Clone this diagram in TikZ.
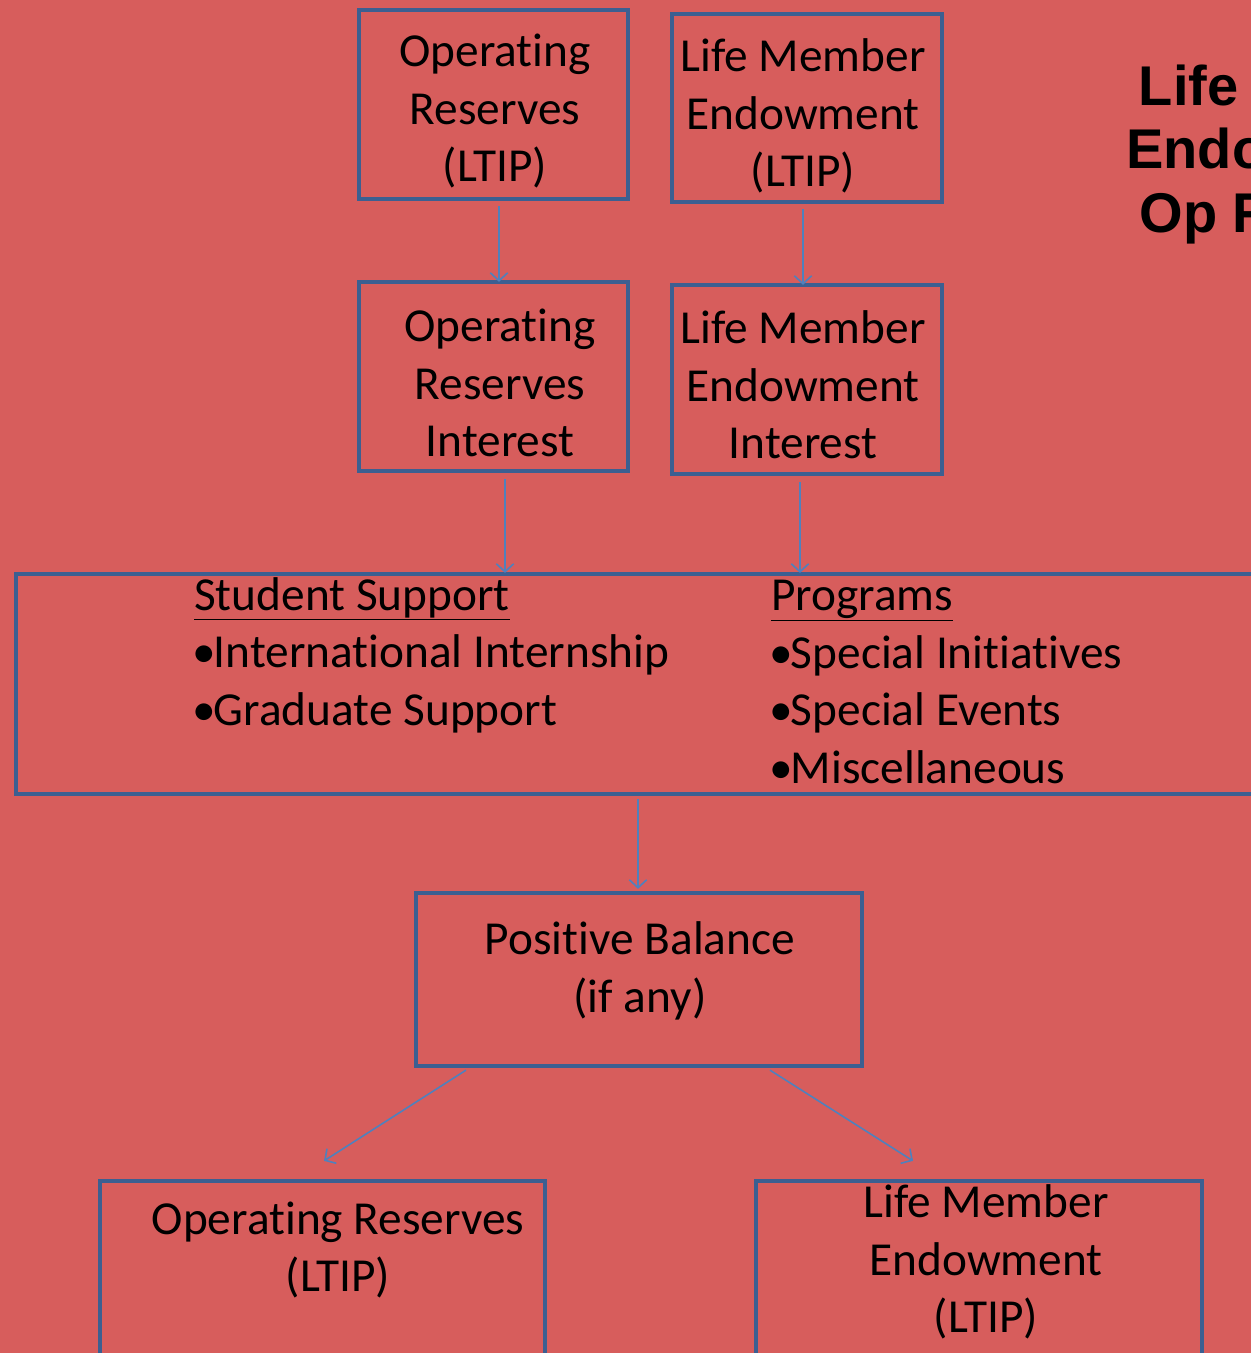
\documentclass[tikz,border=0pt]{standalone}
\usepackage{fontspec}
\setmainfont{Carlito}[Ligatures=NoCommon]
\newfontfamily\titlefont{Liberation Sans}
\usetikzlibrary{arrows.meta,calc,fit}
\definecolor{bgred}{RGB}{215,93,92}
\definecolor{boxblue}{RGB}{60,95,145}
\definecolor{arrowblue}{RGB}{79,129,189}
\newcommand{\blt}{\kern-1.5pt\textbullet\kern-1.5pt}
\begin{document}
\begin{tikzpicture}[x=0.75pt,y=-0.75pt,
  box/.style={draw=boxblue,line width=3.2pt,rectangle,inner sep=0pt},
  txt/.style={font=\fontsize{35.5}{43.1}\selectfont,align=center,inner sep=0pt},
  col/.style={font=\fontsize{35.5}{43.1}\selectfont,align=left,inner sep=0pt,anchor=base west},
  arr/.style={draw=arrowblue,line width=1.2pt,-{Straight Barb[length=6pt,width=13pt,line width=1.2pt]}}]
\useasboundingbox (0,0) rectangle (1251,1353);
\clip (0,0) rectangle (1251,1353);
\fill[bgred] (0,0) rectangle (1251,1353);
% boxes
\node[box,fit={(359,10)(628,199)}] (ort) {};
\node[box,fit={(672,14)(942,202)}] (lmt) {};
\node[box,fit={(359,282)(628,471)}] (ori) {};
\node[box,fit={(672,285)(942,474)}] (lmi) {};
\node[box,fit={(16,574)(1300,794)}] (big) {};
\node[box,fit={(416,893)(862,1066)}] (pb) {};
\node[box,fit={(100,1181)(545,1420)}] (orb) {};
\node[box,fit={(756,1181)(1202,1420)}] (lmb) {};
% texts
\node[txt] (t1) at (495,111) {Operating\\Reserves\\(LTIP)};
\node[txt] (t2) at (803,116) {Life Member\\Endowment\\(LTIP)};
\node[txt] (t3) at (500,383) {Operating\\Reserves\\Interest};
\node[txt] (t4) at (803,385) {Life Member\\Endowment\\Interest};
\node[col] (c1) at (194,725) {\underline{Student Support}\\\blt International Internship\\\blt Graduate Support};
\node[col] (c2) at (771,783) {\underline{Programs}\\\blt Special Initiatives\\\blt Special Events\\\blt Miscellaneous};
\node[txt] (t5) at (640,971) {Positive Balance\\(if any)};
\node[txt] (t6) at (338,1250) {Operating Reserves\\(LTIP)};
\node[txt] (t7) at (986,1262) {Life Member\\Endowment\\(LTIP)};
\node[font=\titlefont\bfseries\fontsize{42}{47.6}\selectfont,align=left,inner sep=0pt,anchor=base west] (title) at (1126,232) {\hspace*{9.5pt}Life Member\\Endowment\\\hspace*{10pt}Op Reserves};
% arrows
\draw[arr] ($(ort.south)+(5.5,5)$) -- ($(ori.north)+(5.5,2)$);
\draw[arr] ($(lmt.south)+(-4,5)$) -- ($(lmi.north)+(-4,2)$);
\draw[arr] ($(ori.south)+(11.5,6)$) -- ($(ori.south|-big.north)+(11.5,1)$);
\draw[arr] ($(lmi.south)+(-7,6)$) -- ($(lmi.south|-big.north)+(-7,1)$);
\draw[arr] ($(big.south)+(-20,3)$) -- ($(pb.north)+(-1,-2)$);
\draw[arr] ($(pb.south)+(-173,2)$) -- ($(orb.north)+(1.5,-18)$);
\draw[arr] ($(pb.south)+(131,2)$) -- ($(lmb.north)+(-66,-18)$);
\end{tikzpicture}
\end{document}
